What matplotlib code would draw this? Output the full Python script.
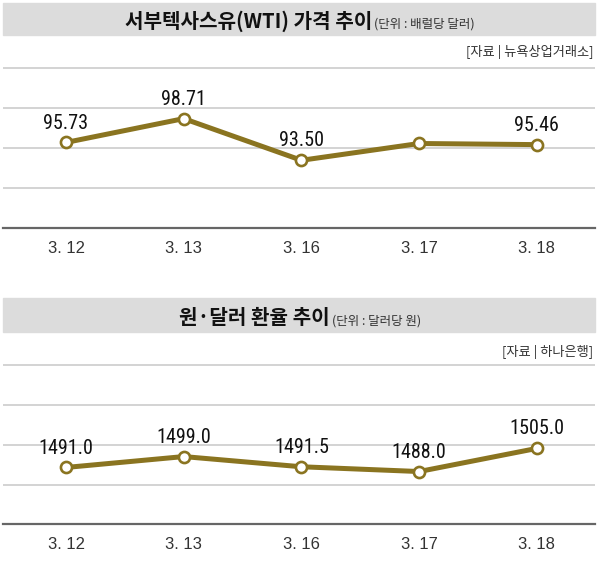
import matplotlib
matplotlib.use('Agg')
import matplotlib.pyplot as plt
from matplotlib.patches import Rectangle
from matplotlib import font_manager as fm

# ---- data ----
dates = ["3. 12", "3. 13", "3. 16", "3. 17", "3. 18"]
wti = [95.73, 98.71, 93.50, 95.6, 95.46]
wti_labels = ["95.73", "98.71", "93.50", None, "95.46"]
krw = [1491.0, 1499.0, 1491.5, 1488.0, 1505.0]
krw_labels = ["1491.0", "1499.0", "1491.5", "1488.0", "1505.0"]

wti_title = "서부텍사스유(WTI) 가격 추이"
wti_unit = "(단위 : 배럴당 달러)"
wti_source = "[자료 | 뉴욕상업거래소]"
krw_title = "원·달러 환율 추이"
krw_unit = "(단위 : 달러당 원)"
krw_source = "[자료 | 하나은행]"

# ---- style ----
W, H = 600, 573
GOLD = "#8a7420"
GRID = "#c8c8c8"
BAR = "#dcdcdc"
names = {f.name for f in fm.fontManager.ttflist}
NUM_FONT, NUM_SIZE = "Liberation Sans", 13.2
for cand, size in [("Liberation Sans Narrow", 15), ("Roboto Condensed", 14.5),
                   ("DejaVu Sans Condensed", 13.5), ("Open Sans Condensed", 14.5)]:
    if cand in names:
        NUM_FONT, NUM_SIZE = cand, size
        break
KR = ["Noto Sans CJK KR", "DejaVu Sans"]

fig = plt.figure(figsize=(6, 5.73), dpi=100)


def fx(px):
    return px / W


def fy(py):
    return 1 - py / H


def title(bar_top, bar_bot, base_px, main, unit, source, src_y):
    fig.patches.append(Rectangle((fx(2.7), fy(bar_bot)), fx(595) - fx(2.7),
                                 fy(bar_top) - fy(bar_bot), transform=fig.transFigure,
                                 color=BAR, zorder=0))
    t1 = fig.text(0, fy(base_px), main, fontsize=14.5, fontweight="bold", family=KR,
                  va="baseline", ha="left", color="#111111")
    t2 = fig.text(0, fy(base_px), unit, fontsize=9, family=KR,
                  va="baseline", ha="left", color="#333333")
    r = fig.canvas.get_renderer()
    w1 = t1.get_window_extent(r).width
    w2 = t2.get_window_extent(r).width
    gap = 2
    x0 = 300 - (w1 + gap + w2) / 2
    t1.set_x(x0 / W)
    t2.set_x((x0 + w1 + gap) / W)
    fig.text(fx(593), fy(src_y), source, ha="right", va="center", fontsize=9.5,
             family=KR, color="#333333")


def panel(top_px, bottom_px, ylim, grid_vals, values, labels):
    ax = fig.add_axes([fx(2.7), fy(bottom_px), fx(595) - fx(2.7), fy(top_px) - fy(bottom_px)])
    ax.set_xlim(-0.538, 4.494)
    ax.set_ylim(*ylim)
    for g in grid_vals:
        ax.axhline(g, color=GRID, lw=1.1, zorder=1)
    for s in ["top", "left", "right"]:
        ax.spines[s].set_visible(False)
    ax.spines["bottom"].set_color("#666666")
    ax.spines["bottom"].set_linewidth(1.6)
    ax.plot(range(len(values)), values, color=GOLD, lw=3.6, marker="o", ms=8,
            mfc="white", mec=GOLD, mew=1.9, zorder=3, clip_on=False)
    for i, (v, lab) in enumerate(zip(values, labels)):
        if lab:
            ax.annotate(lab, (i, v), xytext=(0, 14), textcoords="offset points",
                        ha="center", va="center", fontsize=NUM_SIZE, family=NUM_FONT,
                        color="#111111", zorder=4)
    ax.set_xticks(range(len(dates)))
    ax.set_xticklabels(dates, fontfamily="Liberation Sans", fontsize=12, color="#333333")
    ax.tick_params(axis="x", length=0, pad=9)
    ax.set_yticks([])
    ax.patch.set_alpha(0)
    return ax


# top panel: WTI
title(3.3, 35, 28, wti_title, wti_unit, wti_source, 51.7)
panel(60, 228.3, (85, 85 + (228.3 - 60) / 8), [90, 95, 100, 105], wti, wti_labels)

# bottom panel: KRW/USD
title(298.3, 331.7, 324.5, krw_title, krw_unit, krw_source, 351.7)
k0, kstep = 1449.2, 29.2
panel(357, 524.3, (k0, k0 + (524.3 - 357) / 1.36),
      [k0 + kstep * i for i in range(1, 5)], krw, krw_labels)

fig.savefig("out.png", dpi=100)
